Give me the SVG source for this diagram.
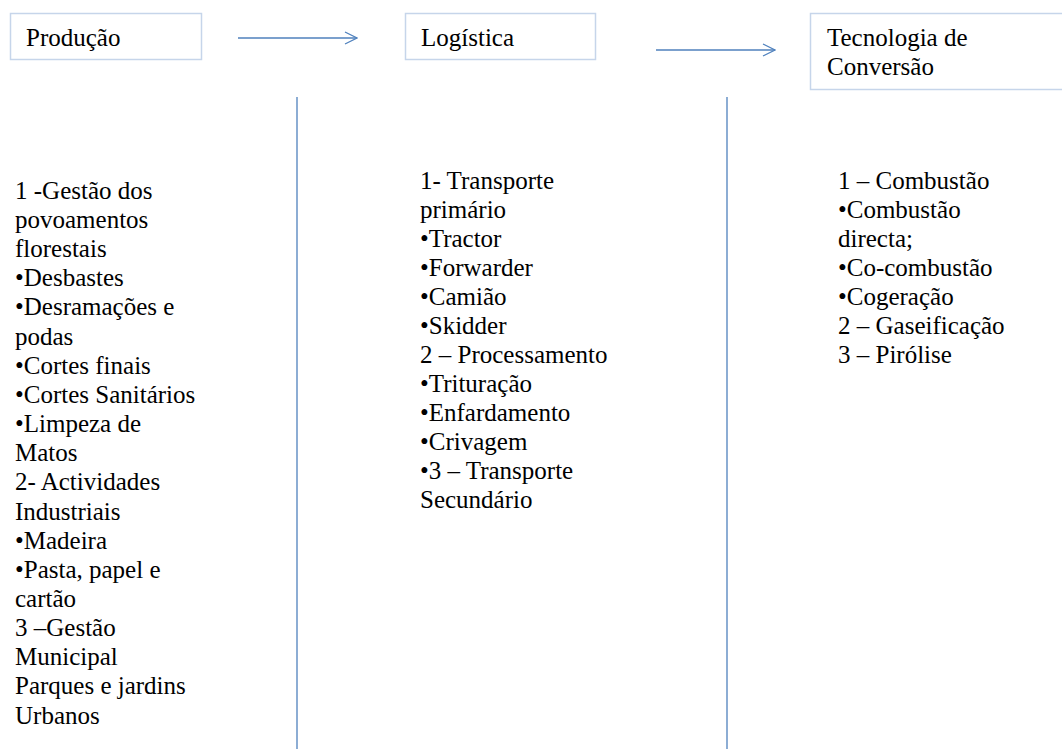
<svg xmlns="http://www.w3.org/2000/svg" width="1062" height="749" viewBox="0 0 1062 749">
  <style>
    .box { fill: #ffffff; stroke: #c6d5ea; stroke-width: 1.5; }
    text { font-family: 'Times New Roman', Times, serif; font-size: 25px; fill: #000000; }
    .flow { stroke: #4f81bd; stroke-width: 1.3; fill: none; }
    .divider { stroke: #4f81bd; stroke-width: 1.3; }
  </style>
  <defs>
    <marker id="chev" viewBox="0 0 14 14" refX="13" refY="7" markerWidth="14" markerHeight="14" markerUnits="userSpaceOnUse" orient="auto">
      <path d="M1,1 L13,7 L1,13" fill="none" stroke="#4f81bd" stroke-width="1.3"/>
    </marker>
  </defs>
  <rect width="1062" height="749" fill="#ffffff"/>

  <g id="node-producao">
    <rect class="box" x="10.5" y="13.5" width="191" height="46"/>
    <text x="26" y="46">Produção</text>
  </g>
  <g id="node-logistica">
    <rect class="box" x="405.5" y="13.5" width="190" height="46"/>
    <text x="421" y="46">Logística</text>
  </g>
  <g id="node-tecnologia">
    <rect class="box" x="810.5" y="13.5" width="260" height="76"/>
    <text x="827" y="46">Tecnologia de</text>
    <text x="827" y="75">Conversão</text>
  </g>

  <g id="connectors">
    <line class="flow" x1="238" y1="38" x2="357" y2="38" marker-end="url(#chev)"/>
    <line class="flow" x1="656" y1="50" x2="775" y2="50" marker-end="url(#chev)"/>
    <line class="divider" x1="297" y1="97" x2="297" y2="749"/>
    <line class="divider" x1="727" y1="97" x2="727" y2="749"/>
  </g>

  <g id="list-producao">
    <text x="15" y="199">1 -Gestão dos</text>
    <text x="15" y="228">povoamentos</text>
    <text x="15" y="257">florestais</text>
    <text x="15" y="286">•Desbastes</text>
    <text x="15" y="315">•Desramações e</text>
    <text x="15" y="345">podas</text>
    <text x="15" y="374">•Cortes finais</text>
    <text x="15" y="403">•Cortes Sanitários</text>
    <text x="15" y="432">•Limpeza de</text>
    <text x="15" y="461">Matos</text>
    <text x="15" y="490">2- Actividades</text>
    <text x="15" y="520">Industriais</text>
    <text x="15" y="549">•Madeira</text>
    <text x="15" y="578">•Pasta, papel e</text>
    <text x="15" y="607">cartão</text>
    <text x="15" y="636">3 –Gestão</text>
    <text x="15" y="665">Municipal</text>
    <text x="15" y="694">Parques e jardins</text>
    <text x="15" y="724">Urbanos</text>
  </g>

  <g id="list-logistica">
    <text x="420" y="189">1- Transporte</text>
    <text x="420" y="218">primário</text>
    <text x="420" y="247">•Tractor</text>
    <text x="420" y="276">•Forwarder</text>
    <text x="420" y="305">•Camião</text>
    <text x="420" y="334">•Skidder</text>
    <text x="420" y="363">2 – Processamento</text>
    <text x="420" y="392">•Trituração</text>
    <text x="420" y="421">•Enfardamento</text>
    <text x="420" y="450">•Crivagem</text>
    <text x="420" y="479">•3 – Transporte</text>
    <text x="420" y="508">Secundário</text>
  </g>

  <g id="list-tecnologia">
    <text x="838" y="189">1 – Combustão</text>
    <text x="838" y="218">•Combustão</text>
    <text x="838" y="247">directa;</text>
    <text x="838" y="276">•Co-combustão</text>
    <text x="838" y="305">•Cogeração</text>
    <text x="838" y="334">2 – Gaseificação</text>
    <text x="838" y="363">3 – Pirólise</text>
  </g>
</svg>
